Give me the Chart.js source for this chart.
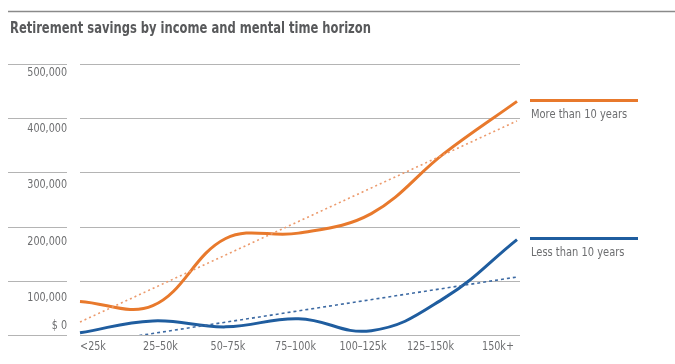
<!DOCTYPE html>
<html>
<head>
<meta charset="utf-8">
<script src="https://cdn.jsdelivr.net/npm/chart.js@4/dist/chart.umd.min.js"></script>
<style>
  body { margin: 0; background: #fff; }
</style>
</head>
<body>
<canvas id="chart" width="675" height="364"></canvas>
<script>
// data
const titleText = 'Retirement savings by income and mental time horizon'
const categories = ['<25k', '25\u201350k', '50\u201375k', '75\u2013100k', '100\u2013125k', '125\u2013150k', '150k+']
const moreThan10 = [62000, 54000, 178000, 188000, 224000, 335000, 431000]
const lessThan10 = [4000, 26000, 15000, 30000, 8000, 68000, 176000]
const moreTrend = [24000, null, null, null, null, null, 395000]
const lessTrend = [-18000, null, null, null, null, null, 107000]
const yTicks = [0, 100000, 200000, 300000, 400000, 500000]
const seriesNames = ['More than 10 years', 'Less than 10 years']

const orange = '#e8792c'
const blue = '#1f5d9f'
const narrow = "'DejaVu Sans Condensed', 'Liberation Sans Narrow', sans-serif"

function fmt(v) {
    if (v == 0) return '$ 0'
    return v.toLocaleString('en-US')
}

// text squeezed sideways, the reference uses a condensed face
function squeezed(ctx, text, x, y, sx) {
    ctx.save()
    ctx.translate(x, y)
    ctx.scale(sx, 1)
    ctx.fillText(text, 0, 0)
    ctx.restore()
}

const decorations = {
    id: 'decorations',
    beforeDatasetsDraw(chart) {
        var ctx = chart.ctx, area = chart.chartArea, y = chart.scales.y
        ctx.save()
        // top rule
        ctx.strokeStyle = '#8a8a8a'
        ctx.lineWidth = 1.5
        ctx.beginPath()
        ctx.moveTo(8, 11.5)
        ctx.lineTo(675, 11.5)
        ctx.stroke()
        // title
        ctx.fillStyle = '#58595b'
        ctx.font = 'bold 15px ' + narrow
        ctx.textBaseline = 'alphabetic'
        ctx.textAlign = 'left'
        squeezed(ctx, titleText, 10, 33, 0.855)
        // grid + y labels
        ctx.strokeStyle = '#b4b4b4'
        ctx.lineWidth = 1
        ctx.font = '12px ' + narrow
        ctx.fillStyle = '#6d6e70'
        ctx.textAlign = 'right'
        ctx.textBaseline = 'middle'
        yTicks.forEach((v) => {
            var py = Math.round(y.getPixelForValue(v)) + 0.5
            ctx.beginPath()
            ctx.moveTo(8, py)
            ctx.lineTo(67, py)
            ctx.moveTo(area.left, py)
            ctx.lineTo(area.right + 3, py)
            ctx.stroke()
            var ly = v == 0 ? py - 10 : py + 8 + 2 * (5 - v / 100000)
            squeezed(ctx, fmt(v), 67, ly, 0.89)
        })
        // x labels, spread evenly between first and last
        ctx.textAlign = 'center'
        var x0 = area.left + 13, x1 = area.right - 19
        categories.forEach((c, i) => {
            squeezed(ctx, c, x0 + (x1 - x0) * i / (categories.length - 1), area.bottom + 12, 0.89)
        })
        ctx.restore()
    },
    afterDatasetsDraw(chart) {
        var ctx = chart.ctx, y = chart.scales.y
        ctx.save()
        var ends = [moreThan10[moreThan10.length - 1], lessThan10[lessThan10.length - 1]]
        var colors = [orange, blue]
        ends.forEach((v, i) => {
            var py = y.getPixelForValue(v) - 1
            ctx.strokeStyle = colors[i]
            ctx.lineWidth = 3
            ctx.beginPath()
            ctx.moveTo(530, py)
            ctx.lineTo(638, py)
            ctx.stroke()
            ctx.fillStyle = '#6d6e70'
            ctx.font = '12.5px ' + narrow
            ctx.textAlign = 'left'
            ctx.textBaseline = 'middle'
            squeezed(ctx, seriesNames[i], 531, py + 14, 0.88)
        })
        ctx.restore()
    }
}

new Chart(document.getElementById('chart'), {
    type: 'line',
    data: {
        labels: categories,
        datasets: [
            { data: moreTrend, borderColor: '#ec9a6c', borderWidth: 1.6, borderDash: [2, 3], spanGaps: true, pointRadius: 0, tension: 0 },
            { data: lessTrend, borderColor: '#3d6aa3', borderWidth: 1.6, borderDash: [3, 3], spanGaps: true, pointRadius: 0, tension: 0 },
            { label: seriesNames[0], data: moreThan10, borderColor: orange, borderWidth: 3, pointRadius: 0, tension: 0.38 },
            { label: seriesNames[1], data: lessThan10, borderColor: blue, borderWidth: 3, pointRadius: 0, tension: 0.42 }
        ]
    },
    options: {
        responsive: false,
        animation: false,
        layout: { padding: { left: 80, right: 158, top: 64, bottom: 29 } },
        plugins: { legend: { display: false }, tooltip: { enabled: false } },
        scales: {
            x: { display: false, offset: false },
            y: { display: false, min: 0, max: 500000, ticks: { stepSize: 100000 } }
        }
    },
    plugins: [decorations]
})
</script>
</body>
</html>
